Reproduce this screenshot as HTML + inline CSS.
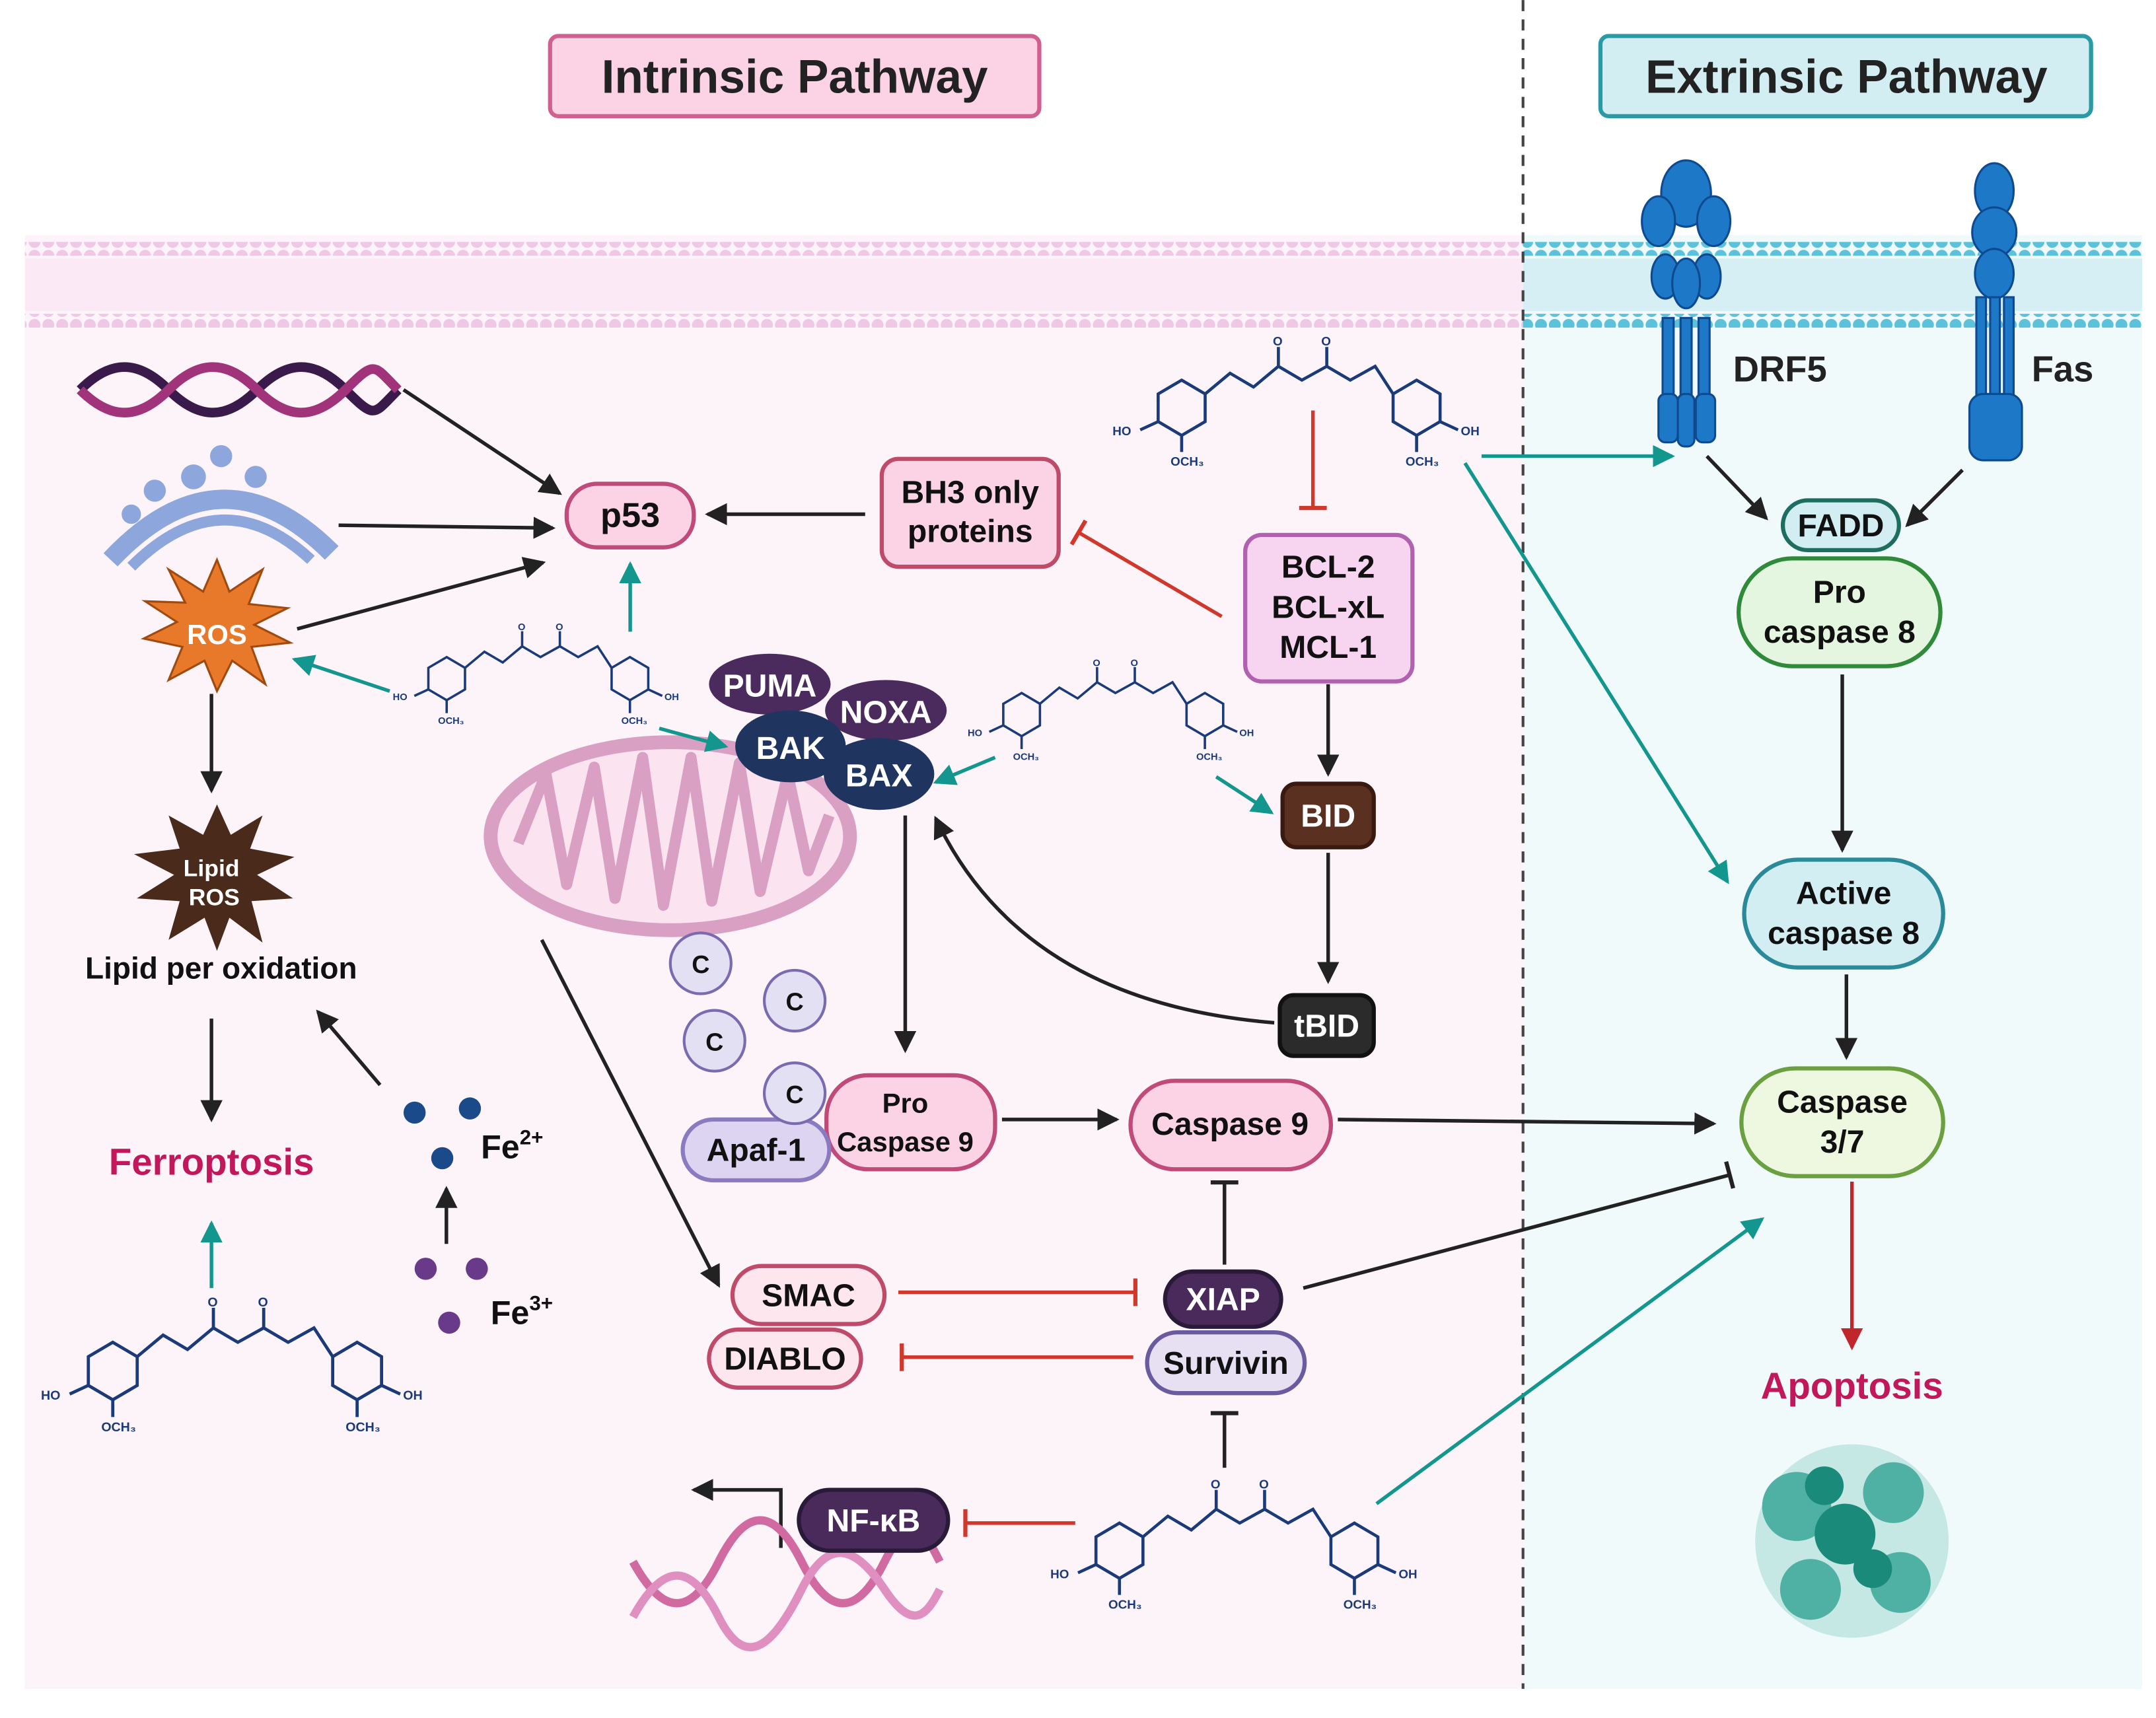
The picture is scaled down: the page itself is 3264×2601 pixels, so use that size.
<!DOCTYPE html>
<html><head><meta charset="utf-8"><style>
html,body{margin:0;padding:0;background:#fff;}
svg{display:block;}
text{font-family:"Liberation Sans",sans-serif;font-weight:bold;}
</style></head><body>
<svg width="3264" height="2601" viewBox="0 0 1560 1243" xmlns="http://www.w3.org/2000/svg">
<defs>
<marker id="ak" markerUnits="userSpaceOnUse" markerWidth="20" markerHeight="20" refX="14" refY="8" orient="auto"><path d="M0,0 L16,8 L0,16 z" fill="#222"/></marker>
<marker id="at" markerUnits="userSpaceOnUse" markerWidth="20" markerHeight="20" refX="14" refY="8" orient="auto"><path d="M0,0 L16,8 L0,16 z" fill="#13968e"/></marker>
<marker id="ar" markerUnits="userSpaceOnUse" markerWidth="20" markerHeight="20" refX="14" refY="8" orient="auto"><path d="M0,0 L16,8 L0,16 z" fill="#c0262c"/></marker>
<marker id="bk" markerUnits="userSpaceOnUse" markerWidth="6" markerHeight="24" refX="3" refY="12" orient="auto"><rect x="1" y="2" width="3" height="20" fill="#222"/></marker>
<marker id="br" markerUnits="userSpaceOnUse" markerWidth="6" markerHeight="24" refX="3" refY="12" orient="auto"><rect x="1" y="2" width="3" height="20" fill="#d0382c"/></marker>
<g id="cur" fill="none" stroke="#1a3a7a" stroke-width="2.2">
<polygon points="40,30 57,40 57,60 40,70 23,60 23,40"/>
<polygon points="210,30 227,40 227,60 210,70 193,60 193,40"/>
<polyline points="57,40 75,25 92,35 110,20 127,30 145,20 162,30 180,20 193,40"/>
<line x1="110" y1="20" x2="110" y2="6"/><line x1="145" y1="20" x2="145" y2="6"/>
<line x1="23" y1="60" x2="10" y2="66"/><line x1="40" y1="70" x2="40" y2="82"/>
<line x1="227" y1="60" x2="240" y2="66"/><line x1="210" y1="70" x2="210" y2="82"/>
<text x="-10" y="70" font-size="9" fill="#1a3a7a" stroke="none">HO</text>
<text x="32" y="92" font-size="9" fill="#1a3a7a" stroke="none">OCH₃</text>
<text x="242" y="70" font-size="9" fill="#1a3a7a" stroke="none">OH</text>
<text x="202" y="92" font-size="9" fill="#1a3a7a" stroke="none">OCH₃</text>
<text x="106" y="5" font-size="9" fill="#1a3a7a" stroke="none">O</text>
<text x="141" y="5" font-size="9" fill="#1a3a7a" stroke="none">O</text>
</g>
<pattern id="pd" width="10" height="10" patternUnits="userSpaceOnUse"><circle cx="5" cy="5" r="4.3" fill="#efc8e6"/></pattern>
<pattern id="cd" width="10" height="10" patternUnits="userSpaceOnUse"><circle cx="5" cy="5" r="4.3" fill="#5cc2dc"/></pattern>
</defs>
<rect width="1560" height="1243" fill="#fff"/>
<rect x="18" y="170" width="1084" height="1052" fill="#fdf4f9"/>
<rect x="1102" y="170" width="448" height="1052" fill="#f1fafb"/>
<!-- membrane -->
<rect x="18" y="175" width="1084" height="10" fill="url(#pd)"/>
<rect x="18" y="227" width="1084" height="10" fill="url(#pd)"/>
<rect x="18" y="187" width="1084" height="38" fill="#fbeaf5"/>
<rect x="1102" y="175" width="448" height="10" fill="url(#cd)"/>
<rect x="1102" y="227" width="448" height="10" fill="url(#cd)"/>
<rect x="1102" y="187" width="448" height="38" fill="#d6eff5"/>
<line x1="1102" y1="0" x2="1102" y2="1222" stroke="#444" stroke-width="2" stroke-dasharray="8,6"/>
<!-- titles -->
<rect x="398" y="26" width="354" height="58" rx="6" fill="#fbd3e5" stroke="#d0608f" stroke-width="3"/>
<text x="575" y="67" font-size="34" text-anchor="middle" fill="#222">Intrinsic Pathway</text>
<rect x="1158" y="26" width="355" height="58" rx="6" fill="#d2eef2" stroke="#2a9aa6" stroke-width="3"/>
<text x="1336" y="67" font-size="34" text-anchor="middle" fill="#222">Extrinsic Pathway</text>
<!-- receptors -->
<g fill="#1e78c8" stroke="#0d4a90" stroke-width="1.5">
<ellipse cx="1220" cy="140" rx="18" ry="24"/><ellipse cx="1200" cy="160" rx="12" ry="18"/><ellipse cx="1240" cy="160" rx="12" ry="18"/>
<ellipse cx="1205" cy="200" rx="10" ry="16"/><ellipse cx="1235" cy="200" rx="10" ry="16"/><ellipse cx="1220" cy="205" rx="10" ry="18"/>
<rect x="1203" y="230" width="8" height="60"/><rect x="1216" y="230" width="8" height="60"/><rect x="1229" y="230" width="8" height="60"/>
<rect x="1200" y="285" width="14" height="35" rx="5"/><rect x="1214" y="285" width="12" height="38" rx="5"/><rect x="1227" y="285" width="14" height="35" rx="5"/>
<ellipse cx="1443" cy="138" rx="14" ry="20"/><ellipse cx="1443" cy="168" rx="16" ry="18"/><ellipse cx="1443" cy="198" rx="14" ry="18"/>
<rect x="1430" y="215" width="7" height="75"/><rect x="1440" y="215" width="7" height="75"/><rect x="1450" y="215" width="7" height="75"/>
<rect x="1425" y="285" width="38" height="48" rx="10"/>
</g>
<text x="1254" y="276" font-size="26" fill="#222">DRF5</text>
<text x="1470" y="276" font-size="26" fill="#222">Fas</text>
<!-- DNA top -->
<path d="M58,282 C80,260 100,260 122,282 S164,304 186,282 S228,260 250,282 S270,300 288,282" fill="none" stroke="#3a1a4a" stroke-width="7"/>
<path d="M58,282 C80,304 100,304 122,282 S164,260 186,282 S228,304 250,282 S270,264 288,282" fill="none" stroke="#a0337a" stroke-width="7"/>
<!-- ER -->
<path d="M80,405 Q160,320 240,400" fill="none" stroke="#8da6dc" stroke-width="14"/>
<path d="M95,410 Q160,345 225,405" fill="none" stroke="#8da6dc" stroke-width="8"/>
<g fill="#8da6dc"><circle cx="112" cy="355" r="8"/><circle cx="140" cy="345" r="9"/><circle cx="160" cy="330" r="8"/><circle cx="185" cy="345" r="8"/><circle cx="95" cy="372" r="7"/></g>
<!-- ROS stars -->
<polygon points="157,405 166,428 190,412 180,437 208,440 184,452 210,465 182,468 192,495 168,478 157,500 148,478 122,492 132,468 104,462 128,450 105,435 134,436 122,412 147,428" fill="#e8792a" stroke="#a04a10" stroke-width="1.5"/>
<text x="157" y="466" font-size="20" fill="#fff" text-anchor="middle">ROS</text>
<polygon points="157,582 167,604 190,590 181,614 213,620 186,633 212,650 182,652 190,682 166,664 157,688 148,664 122,680 130,652 99,650 126,633 97,618 130,614 122,590 147,604" fill="#4a2a1a"/>
<text x="153" y="634" font-size="17" fill="#fff" text-anchor="middle">Lipid</text>
<text x="155" y="655" font-size="17" fill="#fff" text-anchor="middle">ROS</text>
<text x="160" y="708" font-size="22" fill="#111" text-anchor="middle">Lipid per oxidation</text>
<text x="153" y="850" font-size="27" fill="#c2185b" text-anchor="middle">Ferroptosis</text>
<text x="1340" y="1012" font-size="27" fill="#c2185b" text-anchor="middle">Apoptosis</text>
<!-- Fe -->
<g fill="#1a4a8a"><circle cx="300" cy="805" r="8"/><circle cx="340" cy="802" r="8"/><circle cx="320" cy="838" r="8"/></g>
<g fill="#6a3a8a"><circle cx="308" cy="918" r="8"/><circle cx="345" cy="918" r="8"/><circle cx="325" cy="957" r="8"/></g>
<text x="348" y="838" font-size="24" fill="#111">Fe<tspan font-size="15" dy="-10">2+</tspan></text>
<text x="355" y="958" font-size="24" fill="#111">Fe<tspan font-size="15" dy="-10">3+</tspan></text>
<!-- mitochondrion -->
<ellipse cx="485" cy="605" rx="130" ry="68" fill="#fbe4f0" stroke="#d9a0c4" stroke-width="10"/>
<path d="M375,610 L395,560 L410,640 L430,555 L445,650 L465,548 L480,655 L500,548 L515,652 L535,552 L550,645 L570,560 L585,630 L600,590" fill="none" stroke="#d9a0c4" stroke-width="8" stroke-linejoin="round"/>
<!-- curcumins -->
<use href="#cur" transform="translate(815,245)"/>
<use href="#cur" transform="translate(292,452) scale(0.78)"/>
<use href="#cur" transform="translate(708,478) scale(0.78)"/>
<use href="#cur" transform="translate(40,940) scale(1.04)"/>
<use href="#cur" transform="translate(770,1072)"/>
<!-- arrows -->
<g fill="none" stroke-width="2.6">
<line x1="292" y1="282" x2="405" y2="357" stroke="#222" marker-end="url(#ak)"/>
<line x1="245" y1="380" x2="400" y2="382" stroke="#222" marker-end="url(#ak)"/>
<line x1="215" y1="455" x2="393" y2="407" stroke="#222" marker-end="url(#ak)"/>
<line x1="456" y1="457" x2="456" y2="408" stroke="#13968e" marker-end="url(#at)"/>
<line x1="282" y1="500" x2="213" y2="477" stroke="#13968e" marker-end="url(#at)"/>
<line x1="477" y1="527" x2="525" y2="540" stroke="#13968e" marker-end="url(#at)"/>
<line x1="626" y1="372" x2="512" y2="372" stroke="#222" marker-end="url(#ak)"/>
<line x1="950" y1="297" x2="950" y2="368" stroke="#d0382c" marker-end="url(#br)"/>
<line x1="884" y1="446" x2="780" y2="385" stroke="#d0382c" marker-end="url(#br)"/>
<line x1="961" y1="495" x2="961" y2="560" stroke="#222" marker-end="url(#ak)"/>
<line x1="720" y1="548" x2="677" y2="566" stroke="#13968e" marker-end="url(#at)"/>
<line x1="880" y1="562" x2="920" y2="588" stroke="#13968e" marker-end="url(#at)"/>
<line x1="961" y1="617" x2="961" y2="710" stroke="#222" marker-end="url(#ak)"/>
<path d="M922,740 Q740,725 677,592" stroke="#222" marker-end="url(#ak)"/>
<line x1="655" y1="590" x2="655" y2="760" stroke="#222" marker-end="url(#ak)"/>
<line x1="153" y1="502" x2="153" y2="572" stroke="#222" marker-end="url(#ak)"/>
<line x1="153" y1="737" x2="153" y2="810" stroke="#222" marker-end="url(#ak)"/>
<line x1="153" y1="932" x2="153" y2="885" stroke="#13968e" marker-end="url(#at)"/>
<line x1="275" y1="785" x2="230" y2="732" stroke="#222" marker-end="url(#ak)"/>
<line x1="323" y1="900" x2="323" y2="860" stroke="#222" marker-end="url(#ak)"/>
<line x1="392" y1="680" x2="520" y2="930" stroke="#222" marker-end="url(#ak)"/>
<line x1="725" y1="810" x2="808" y2="810" stroke="#222" marker-end="url(#ak)"/>
<line x1="968" y1="810" x2="1240" y2="813" stroke="#222" marker-end="url(#ak)"/>
<line x1="886" y1="915" x2="886" y2="855" stroke="#222" marker-end="url(#bk)"/>
<line x1="943" y1="932" x2="1252" y2="850" stroke="#222" marker-end="url(#bk)"/>
<line x1="650" y1="935" x2="822" y2="935" stroke="#d0382c" marker-end="url(#br)"/>
<line x1="820" y1="982" x2="652" y2="982" stroke="#d0382c" marker-end="url(#br)"/>
<line x1="886" y1="1062" x2="886" y2="1022" stroke="#222" marker-end="url(#bk)"/>
<line x1="778" y1="1102" x2="698" y2="1102" stroke="#d0382c" marker-end="url(#br)"/>
<line x1="996" y1="1088" x2="1275" y2="882" stroke="#13968e" marker-end="url(#at)"/>
<line x1="1072" y1="330" x2="1210" y2="330" stroke="#13968e" marker-end="url(#at)"/>
<line x1="1060" y1="335" x2="1250" y2="638" stroke="#13968e" marker-end="url(#at)"/>
<line x1="1235" y1="330" x2="1278" y2="375" stroke="#222" marker-end="url(#ak)"/>
<line x1="1420" y1="340" x2="1380" y2="380" stroke="#222" marker-end="url(#ak)"/>
<line x1="1333" y1="488" x2="1333" y2="615" stroke="#222" marker-end="url(#ak)"/>
<line x1="1336" y1="705" x2="1336" y2="765" stroke="#222" marker-end="url(#ak)"/>
<line x1="1340" y1="855" x2="1340" y2="975" stroke="#c0262c" marker-end="url(#ar)"/>
<polyline points="565,1120 565,1078 502,1078" stroke="#222" marker-end="url(#ak)"/>
</g>
<!-- DNA bottom -->
<path d="M458,1130 C480,1170 500,1170 520,1130 S560,1090 580,1130 S620,1170 640,1130 S670,1110 680,1130" fill="none" stroke="#d06aa0" stroke-width="6"/>
<path d="M458,1170 C480,1130 500,1130 520,1170 S560,1190 580,1150 S620,1120 640,1150 S670,1170 680,1150" fill="none" stroke="#e090c0" stroke-width="6"/>
<!-- apoptotic cell -->
<g>
<circle cx="1340" cy="1115" r="70" fill="#a8dcd6" opacity="0.6"/>
<circle cx="1300" cy="1090" r="25" fill="#4fb0a4"/><circle cx="1370" cy="1080" r="22" fill="#4fb0a4"/>
<circle cx="1310" cy="1150" r="22" fill="#4fb0a4"/><circle cx="1375" cy="1145" r="22" fill="#4fb0a4"/>
<circle cx="1335" cy="1110" r="22" fill="#1a8a7a"/><circle cx="1320" cy="1075" r="14" fill="#1a8a7a"/><circle cx="1355" cy="1135" r="14" fill="#1a8a7a"/>
</g>
<!-- nodes -->
<g stroke-width="3">
<rect x="410" y="350" width="92" height="46" rx="22" fill="#fbd3e5" stroke="#c04a7a"/>
<rect x="638" y="332" width="128" height="78" rx="12" fill="#fbd3e5" stroke="#c04a6a"/>
<rect x="901" y="387" width="121" height="106" rx="12" fill="#f7d5f0" stroke="#b062b0"/>
<rect x="928" y="567" width="66" height="46" rx="10" fill="#5a3120" stroke="#3a1a10"/>
<rect x="926" y="720" width="68" height="44" rx="10" fill="#2b2b2b" stroke="#111"/>
<rect x="1290" y="362" width="84" height="36" rx="18" fill="#d2eef2" stroke="#1e6e60"/>
<rect x="1258" y="404" width="146" height="78" rx="39" fill="#e4f5e0" stroke="#2f8a3a"/>
<rect x="1262" y="622" width="144" height="78" rx="39" fill="#d2eef2" stroke="#2a8a9a"/>
<rect x="1260" y="773" width="146" height="78" rx="39" fill="#eef7e0" stroke="#6aa040"/>
<rect x="818" y="782" width="145" height="64" rx="32" fill="#fbd3e5" stroke="#c04a7a"/>
<rect x="598" y="778" width="122" height="68" rx="30" fill="#fbd3e5" stroke="#c04a7a"/>
<rect x="494" y="810" width="106" height="44" rx="22" fill="#dcd4f0" stroke="#8a7ac0"/>
<circle cx="507" cy="697" r="22" fill="#e4e0f4" stroke="#7a6ab0" stroke-width="2"/>
<circle cx="575" cy="724" r="22" fill="#e4e0f4" stroke="#7a6ab0" stroke-width="2"/>
<circle cx="517" cy="753" r="22" fill="#e4e0f4" stroke="#7a6ab0" stroke-width="2"/>
<circle cx="575" cy="791" r="22" fill="#e4e0f4" stroke="#7a6ab0" stroke-width="2"/>
<rect x="530" y="916" width="110" height="42" rx="21" fill="#fde6ee" stroke="#c04a6a"/>
<rect x="513" y="962" width="110" height="42" rx="21" fill="#fde6ee" stroke="#c04a6a"/>
<rect x="843" y="920" width="84" height="40" rx="20" fill="#4a2a5a" stroke="#2a1a3a"/>
<rect x="830" y="964" width="114" height="44" rx="22" fill="#e6e0f2" stroke="#6a5aa0"/>
<rect x="578" y="1078" width="108" height="44" rx="22" fill="#4a2a5a" stroke="#2a1a3a"/>
<ellipse cx="557" cy="495" rx="44" ry="22" fill="#4b2a5e"/>
<ellipse cx="641" cy="514" rx="44" ry="22" fill="#4b2a5e"/>
<ellipse cx="572" cy="540" rx="40" ry="26" fill="#1f3560"/>
<ellipse cx="636" cy="560" rx="40" ry="26" fill="#1f3560"/>
</g>
<g font-size="23" text-anchor="middle" fill="#111">
<text x="456" y="381" font-size="25">p53</text>
<text x="702" y="364">BH3 only</text><text x="702" y="392">proteins</text>
<text x="961" y="418">BCL-2</text><text x="961" y="447">BCL-xL</text><text x="961" y="476">MCL-1</text>
<text x="961" y="598" fill="#fff">BID</text>
<text x="960" y="750" fill="#fff" font-weight="normal">tBID</text>
<text x="1332" y="388">FADD</text>
<text x="1331" y="436">Pro</text><text x="1331" y="465">caspase 8</text>
<text x="1334" y="654">Active</text><text x="1334" y="683">caspase 8</text>
<text x="1333" y="805">Caspase</text><text x="1333" y="834">3/7</text>
<text x="890" y="821">Caspase 9</text>
<text x="655" y="805" font-size="20">Pro</text><text x="655" y="833" font-size="20">Caspase 9</text>
<text x="547" y="840">Apaf-1</text>
<text x="507" y="704" font-size="18" font-weight="normal">C</text>
<text x="575" y="731" font-size="18" font-weight="normal">C</text>
<text x="517" y="760" font-size="18" font-weight="normal">C</text>
<text x="575" y="798" font-size="18" font-weight="normal">C</text>
<text x="585" y="945">SMAC</text>
<text x="568" y="991">DIABLO</text>
<text x="885" y="948" fill="#fff">XIAP</text>
<text x="887" y="994">Survivin</text>
<text x="632" y="1108" fill="#fff">NF-κB</text>
<text x="557" y="504" fill="#fff">PUMA</text>
<text x="641" y="523" fill="#fff">NOXA</text>
<text x="572" y="549" fill="#fff">BAK</text>
<text x="636" y="569" fill="#fff">BAX</text>
</g>
</svg>
</body></html>
